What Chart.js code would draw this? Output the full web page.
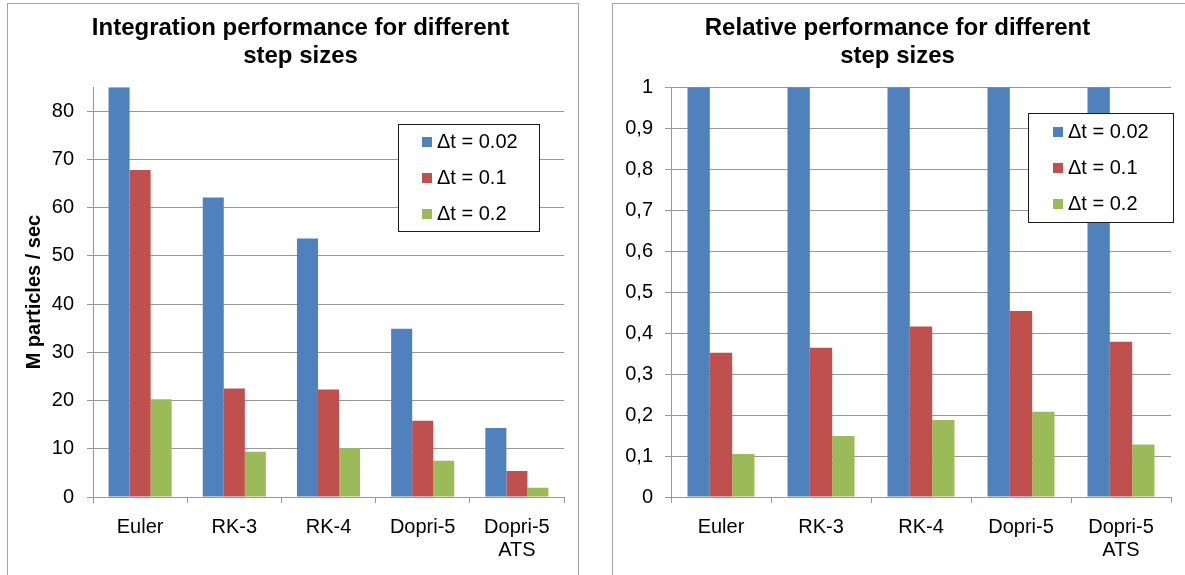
<!DOCTYPE html>
<html>
<head>
<meta charset="utf-8">
<title>Step size performance</title>
<script src="https://cdn.jsdelivr.net/npm/chart.js@4.4.1/dist/chart.umd.min.js"></script>
<style>
    html, body {
        margin: 0;
        padding: 0;
        background: #ffffff;
        overflow: hidden;
        width: 1185px;
        height: 575px;
    }

    .panel {
        position: absolute;
        border: 1px solid #a3a3a3;
        background: #ffffff;
    }

    .panel canvas {
        display: block;
    }
</style>
</head>
<body>

<div class="panel" style="left: 7px; top: 3px; width: 570px; height: 600px;">
    <canvas id="throughputChart" width="570" height="600"></canvas>
</div>

<div class="panel" style="left: 612px; top: 3px; width: 590px; height: 600px;">
    <canvas id="relativeChart" width="590" height="600"></canvas>
</div>

<script>
const integrators = ["Euler", "RK-3", "RK-4", "Dopri-5", ["Dopri-5", "ATS"]];
const stepLabels = ["Δt = 0.02", "Δt = 0.1", "Δt = 0.2"];
const stepColors = ["#4f81bd", "#c0504d", "#9bbb59"];

// M particles / sec
const throughputStep002 = [85, 62.1, 53.6, 34.9, 14.3];
const throughputStep01 = [67.8, 22.5, 22.3, 15.8, 5.4];
const throughputStep02 = [20.3, 9.4, 10.1, 7.5, 1.9];

// relative to dt = 0.02
const relativeStep002 = [1, 1, 1, 1, 1];
const relativeStep01 = [0.352, 0.364, 0.416, 0.454, 0.379];
const relativeStep02 = [0.105, 0.149, 0.188, 0.208, 0.128];

const FONT_FAMILY = "'Liberation Sans', Arial, sans-serif";
const GRID_COLOR = "#989898";

Chart.defaults.font.family = FONT_FAMILY;
Chart.defaults.color = "#000000";

// legend drawn as a boxed list inside the plot area
const boxLegend = {
    id: "boxLegend",
    afterDraw(chart, args, opts) {
        const { ctx, chartArea } = chart;
        const x = Math.round(chartArea.left + opts.x);
        const y = Math.round(chartArea.top + opts.y);

        ctx.save();
        ctx.fillStyle = "#ffffff";
        ctx.fillRect(x, y, opts.width, opts.height);
        ctx.strokeStyle = "#1a1a1a";
        ctx.lineWidth = 1;
        ctx.strokeRect(x + 0.5, y + 0.5, opts.width, opts.height);

        ctx.font = `20px ${FONT_FAMILY}`;
        ctx.textBaseline = "middle";
        ctx.textAlign = "left";

        chart.data.datasets.forEach((dataset, i) => {
            const rowY = y + opts.firstRow + i * opts.rowGap;
            ctx.fillStyle = dataset.backgroundColor;
            ctx.fillRect(x + opts.swatchX, rowY - 5, 10, 10);
            ctx.fillStyle = "#000000";
            ctx.fillText(dataset.label, x + opts.swatchX + 15, rowY);
        });
        ctx.restore();
    },
};

function buildDatasets(seriesList) {
    return seriesList.map((values, i) => ({
        label: stepLabels[i],
        data: values,
        backgroundColor: stepColors[i],
        borderWidth: 0,
        categoryPercentage: 0.67,
        barPercentage: 1.0,
    }));
}

function xAxis(height) {
    return {
        offset: true,
        afterFit(scale) {
            scale.height = height;
        },
        grid: {
            display: true,
            offset: true,
            drawOnChartArea: false,
            drawTicks: true,
            tickLength: 6,
            color: GRID_COLOR,
        },
        border: {
            display: true,
            color: GRID_COLOR,
        },
        ticks: {
            padding: 13,
            font: { size: 20, lineHeight: 1.15 },
            maxRotation: 0,
            autoSkip: false,
        },
    };
}

const titleFont = { size: 24, weight: "bold", lineHeight: 1.15 };

new Chart(document.getElementById("throughputChart"), {
    type: "bar",
    data: {
        labels: integrators,
        datasets: buildDatasets([throughputStep002, throughputStep01, throughputStep02]),
    },
    options: {
        responsive: false,
        animation: false,
        layout: {
            padding: { left: 29, right: 14, top: 0, bottom: 0 },
        },
        plugins: {
            legend: { display: false },
            tooltip: { enabled: false },
            title: {
                display: true,
                text: ["Integration performance for different", "step sizes"],
                font: titleFont,
                color: "#000000",
                padding: { top: 11, bottom: 17 },
            },
            boxLegend: {
                x: 305, y: 37, width: 141, height: 107,
                firstRow: 18, rowGap: 36, swatchX: 24,
            },
        },
        scales: {
            x: xAxis(107),
            y: {
                min: 0,
                max: 85,
                afterFit(scale) {
                    scale.width = 56;
                },
                afterBuildTicks(scale) {
                    scale.ticks = scale.ticks.filter(t => t.value <= 80);
                },
                title: {
                    display: true,
                    text: "M particles / sec",
                    font: { size: 20, weight: "bold", lineHeight: 1.2 },
                    color: "#000000",
                    padding: { top: -15, bottom: 0 },
                },
                grid: {
                    color: GRID_COLOR,
                    tickLength: 6,
                    drawTicks: true,
                },
                border: {
                    display: true,
                    color: GRID_COLOR,
                },
                ticks: {
                    stepSize: 10,
                    padding: 13,
                    font: { size: 20 },
                },
            },
        },
    },
    plugins: [boxLegend],
});

new Chart(document.getElementById("relativeChart"), {
    type: "bar",
    data: {
        labels: integrators,
        datasets: buildDatasets([relativeStep002, relativeStep01, relativeStep02]),
    },
    options: {
        responsive: false,
        animation: false,
        layout: {
            padding: { left: 11, right: 32, top: 0, bottom: 0 },
        },
        plugins: {
            legend: { display: false },
            tooltip: { enabled: false },
            title: {
                display: true,
                text: ["Relative performance for different", "step sizes"],
                font: titleFont,
                color: "#000000",
                padding: { top: 11, bottom: 17 },
            },
            boxLegend: {
                x: 357, y: 26, width: 145, height: 109,
                firstRow: 19, rowGap: 36, swatchX: 25,
            },
        },
        scales: {
            x: xAxis(107),
            y: {
                min: 0,
                max: 1,
                afterFit(scale) {
                    scale.width = 47;
                },
                grid: {
                    color: GRID_COLOR,
                    tickLength: 6,
                    drawTicks: true,
                },
                border: {
                    display: true,
                    color: GRID_COLOR,
                },
                ticks: {
                    stepSize: 0.1,
                    padding: 12,
                    font: { size: 20 },
                    callback: value => String(Math.round(value * 10) / 10).replace(".", ","),
                },
            },
        },
    },
    plugins: [boxLegend],
});
</script>
</body>
</html>
